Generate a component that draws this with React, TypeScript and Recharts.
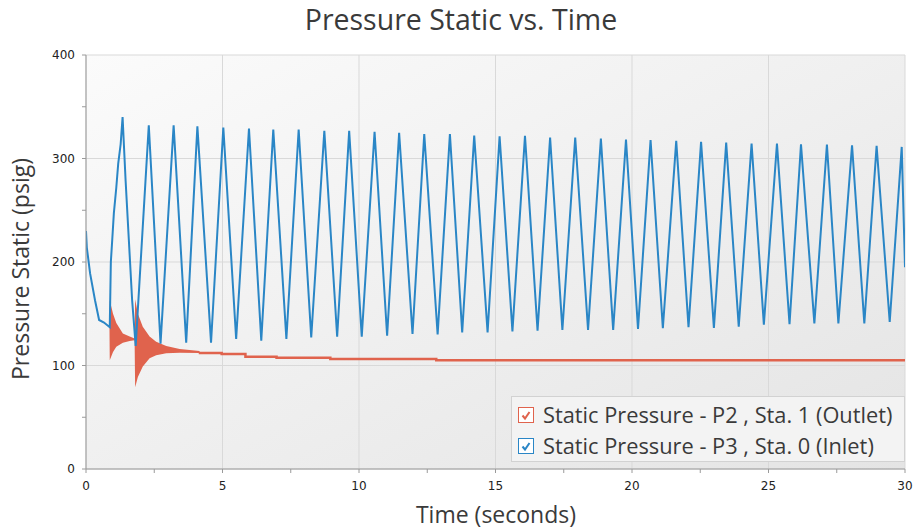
import { ComposedChart, Line, Area, XAxis, YAxis, CartesianGrid, Legend, Label } from 'recharts';

// Inlet (P3) - start-up transient before the first peak
const inletStartT = [0, 0.03, 0.15, 0.33, 0.48, 0.66, 0.87, 0.91, 0.96, 1.02, 1.11, 1.18, 1.27];
const inletStartP = [230, 214, 189, 163, 144, 141.5, 137, 200, 221, 247, 272, 295, 314];

// Inlet (P3) - cycle peaks
const inletPeakT = [1.34, 2.3, 3.21, 4.08, 5.03, 5.97, 6.86, 7.79, 8.73, 9.64, 10.57, 11.47, 12.39, 13.33, 14.22, 15.15,
    16.08, 17.0, 17.92, 18.86, 19.78, 20.68, 21.62, 22.53, 23.45, 24.38, 25.31, 26.19, 27.14, 28.06, 28.96, 29.88];
const inletPeakP = [340, 332, 332, 331, 330, 329, 328, 328, 326.7, 326.7, 325.7, 324.8, 323.5, 323.5, 322.2, 321.5,
    322, 320.3, 320.3, 319.3, 318.3, 317.7, 317, 316, 315.4, 314.4, 314.4, 313.8, 313.5, 312.8, 312.2, 311.2];

// Inlet (P3) - cycle troughs
const inletTroughT = [1.45, 1.57, 1.69, 1.82, 2.73, 3.67, 4.58, 5.5, 6.42, 7.34, 8.25, 9.2, 10.1, 11.03, 11.96, 12.88,
    13.78, 14.71, 15.62, 16.54, 17.45, 18.39, 19.31, 20.22, 21.13, 22.07, 23.0, 23.91, 24.83, 25.77, 26.68,
    27.56, 28.51, 29.44, 30];
const inletTroughP = [279, 221, 163, 119, 121, 122, 122, 125.6, 124, 125.6, 127, 127.8, 127.8, 128.8, 130.4, 130,
    132, 132, 133, 133.7, 134.3, 134.3, 134.3, 135.3, 136, 137, 136.3, 137.5, 139.5, 140, 140.7,
    140.7, 140.7, 142, 195];

// Outlet (P2) - fast oscillation bursts, min / max envelope
const outletBurstT = [0.86, 0.87, 0.99, 1.11, 1.35, 1.6, 1.78, 1.8, 1.9, 2.08, 2.33, 2.57, 2.94, 3.43, 4.16];
const outletBurstLow = [136, 105, 113, 118, 122, 123.7, 124.5, 79, 89, 99, 107, 110, 111.8, 112.4, 112];
const outletBurstHigh = [137, 163, 150, 141, 131, 128, 126, 164, 150, 137.5, 128, 123, 118.8, 116, 114];

// Outlet (P2) - settled pressure
const outletTailT = [4.13, 4.97, 5.84, 6.98, 8.95, 12.83, 30];
const outletTailP = [112, 111, 108.5, 107.5, 106.3, 105, 105];

const xTicks = [0, 2.5, 5, 7.5, 10, 12.5, 15, 17.5, 20, 22.5, 25, 27.5, 30];
const yTicks = [0, 50, 100, 150, 200, 250, 300, 350, 400];
const xGrid = [0, 5, 10, 15, 20, 25, 30];
const yGrid = [0, 100, 200, 300, 400];

const BLUE = '#2a86c6';
const RED = '#e0634d';

const inletPoints = [
    ...inletStartT.map((t, i) => ({ t, p: inletStartP[i] })),
    ...inletPeakT.map((t, i) => ({ t, p: inletPeakP[i] })),
    ...inletTroughT.map((t, i) => ({ t, p: inletTroughP[i] })),
].sort((a, b) => a.t - b.t);

const outletBurst = outletBurstT.map((t, i) => ({ t, range: [outletBurstLow[i], outletBurstHigh[i]] }));
const outletTail = outletTailT.map((t, i) => ({ t, p: outletTailP[i] }));

const legendItems = [
    { label: 'Static Pressure - P2 , Sta. 1 (Outlet)', color: RED },
    { label: 'Static Pressure - P3 , Sta. 0 (Inlet)', color: BLUE },
];

function CheckBox({ color }: { color: string }) {
    return (
        <svg width={16} height={16} style={{ display: 'block' }}>
            <rect x={0.5} y={0.5} width={15} height={15} fill="#fff" stroke={color} />
            <path d="M4.5 8.5 L7 11.5 L11.5 5" fill="none" stroke={color} strokeWidth={2} />
        </svg>
    );
}

function LegendBox() {
    return (
        <div
            style={{
                boxSizing: 'border-box',
                width: 394,
                height: 66,
                background: '#f3f3f3',
                border: '1px solid #d2d2d2',
                padding: '2px 0 0 6px',
                fontFamily: '"Open Sans", sans-serif',
                fontSize: 21.8,
                color: '#3a3a3a',
            }}
        >
            {legendItems.map((it) => (
                <div key={it.label} style={{ display: 'flex', alignItems: 'center', height: 31 }}>
                    <CheckBox color={it.color} />
                    <span style={{ marginLeft: 9, whiteSpace: 'nowrap', lineHeight: '30px' }}>{it.label}</span>
                </div>
            ))}
        </div>
    );
}

const tickStyle = { fontFamily: '"DejaVu Sans", sans-serif', fontSize: 12, fill: '#222' };
const labelFont = '"Open Sans", sans-serif';

export default function App() {
    return (
        <div style={{ position: 'absolute', left: 0, top: 0, width: 917, height: 529, background: '#fff' }}>
            <div
                style={{
                    position: 'absolute',
                    left: 0,
                    top: 0,
                    width: 922,
                    textAlign: 'center',
                    fontFamily: labelFont,
                    fontSize: 28.5,
                    lineHeight: '39px',
                    color: '#3a3a3a',
                }}
            >
                Pressure Static vs. Time
            </div>
            <ComposedChart width={917} height={529} margin={{ top: 55, right: 12, bottom: 0, left: 0 }}>
                <defs>
                    <linearGradient id="plotBg" x1="0" y1="0" x2="1" y2="1">
                        <stop offset="0%" stopColor="#fbfbfb" />
                        <stop offset="100%" stopColor="#e4e4e4" />
                    </linearGradient>
                </defs>
                <CartesianGrid
                    stroke="#d9d9d9"
                    fill="url(#plotBg)"
                    horizontalValues={yGrid}
                    verticalValues={xGrid}
                />
                <XAxis
                    dataKey="t"
                    type="number"
                    domain={[0, 30]}
                    ticks={xTicks}
                    tickFormatter={(v: number) => (v % 5 === 0 ? String(v) : '')}
                    allowDataOverflow
                    height={60}
                    tickSize={4}
                    tickMargin={8}
                    stroke="#9a9a9a"
                    tick={tickStyle}
                >
                    <Label
                        content={() => (
                            <text x={496} y={523} textAnchor="middle" fontFamily={labelFont} fontSize={23} fill="#3a3a3a">
                                Time (seconds)
                            </text>
                        )}
                    />
                </XAxis>
                <XAxis xAxisId="top" orientation="top" type="number" domain={[0, 30]} height={0} tick={false} tickLine={false} stroke="#cfcfcf" />
                <YAxis
                    type="number"
                    domain={[0, 400]}
                    ticks={yTicks}
                    tickFormatter={(v: number) => (v % 100 === 0 ? String(v) : '')}
                    allowDataOverflow
                    width={86}
                    tickSize={4}
                    tickMargin={7}
                    stroke="#9a9a9a"
                    tick={tickStyle}
                >
                    <Label
                        content={() => (
                            <text
                                x={29}
                                y={269}
                                transform="rotate(-90, 29, 269)"
                                textAnchor="middle"
                                fontFamily={labelFont}
                                fontSize={23}
                                fill="#3a3a3a"
                            >
                                Pressure Static (psig)
                            </text>
                        )}
                    />
                </YAxis>
                <YAxis yAxisId="right" orientation="right" type="number" domain={[0, 400]} width={0} tick={false} tickLine={false} stroke="#cfcfcf" />
                <Area
                    data={outletBurst}
                    dataKey="range"
                    type="linear"
                    stroke="none"
                    fill={RED}
                    fillOpacity={1}
                    isAnimationActive={false}
                />
                <Line
                    data={outletTail}
                    dataKey="p"
                    type="stepAfter"
                    stroke={RED}
                    strokeWidth={2.5}
                    dot={false}
                    isAnimationActive={false}
                />
                <Line
                    data={inletPoints}
                    dataKey="p"
                    type="linear"
                    stroke={BLUE}
                    strokeWidth={2}
                    dot={false}
                    isAnimationActive={false}
                />
                <Legend
                    layout="vertical"
                    align="center"
                    verticalAlign="middle"
                    wrapperStyle={{ left: 511, top: 396, width: 394 }}
                    content={() => <LegendBox />}
                />
            </ComposedChart>
        </div>
    );
}
